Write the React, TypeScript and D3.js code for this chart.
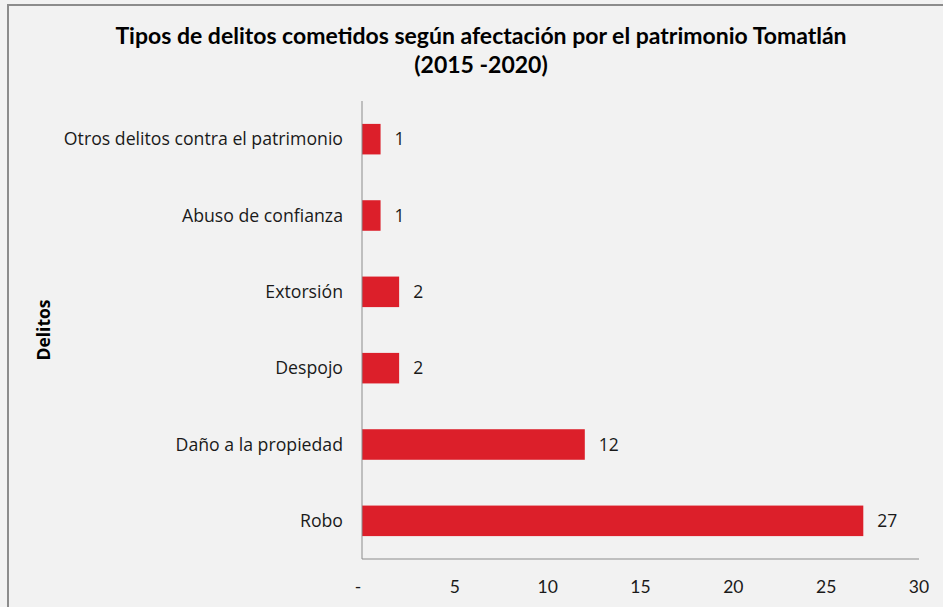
import React from "react";
import * as d3 from "d3";

const categories = [
  "Otros delitos contra el patrimonio",
  "Abuso de confianza",
  "Extorsión",
  "Despojo",
  "Daño a la propiedad",
  "Robo",
];
const values = [1, 1, 2, 2, 12, 27];
const xTicks = [0, 5, 10, 15, 20, 25, 30];
const titleLines = [
  "Tipos de delitos cometidos según afectación por el patrimonio Tomatlán",
  "(2015 -2020)",
];
const yTitle = "Delitos";

const W = 943;
const H = 607;
const TITLE_FONT = "Lato, 'Open Sans', sans-serif";
const LABEL_FONT = "'Open Sans', sans-serif";

export default function App() {
  const left = 362;
  const right = 919;
  const top = 101;
  const bottom = 559;

  const x = d3.scaleLinear().domain([0, 30]).range([left, right]);
  const y = d3
    .scaleBand<string>()
    .domain(categories)
    .range([top, bottom])
    .paddingInner(0.6)
    .paddingOuter(0.3);

  return (
    <svg
      width={W}
      height={H}
      style={{ position: "fixed", left: 0, top: 0, display: "block" }}
    >
      <rect x={0} y={0} width={W} height={H} fill="#F2F2F2" />
      <rect
        x={8}
        y={5}
        width={W + 20}
        height={H + 20}
        fill="#F2F2F2"
        stroke="#8C8C8C"
        strokeWidth={2}
      />
      {titleLines.map((t, i) => (
        <text
          key={i}
          x={481}
          y={44 + i * 29}
          textAnchor="middle"
          fontFamily={TITLE_FONT}
          fontWeight="bold"
          fontSize={23}
          fill="#000"
        >
          {t}
        </text>
      ))}
      <text
        transform={`translate(50,330) rotate(-90)`}
        textAnchor="middle"
        fontFamily={LABEL_FONT}
        fontWeight="bold"
        fontSize={17.5}
        fill="#000"
      >
        {yTitle}
      </text>
      {categories.map((c, i) => {
        const yy = y(c)!;
        const bw = y.bandwidth();
        return (
          <g key={c}>
            <rect
              x={x(0)}
              y={yy}
              width={x(values[i]) - x(0)}
              height={bw}
              fill="#DC1F2A"
            />
            <text
              x={343}
              y={yy + bw / 2}
              dy="0.35em"
              textAnchor="end"
              fontFamily={LABEL_FONT}
              fontSize={17.7}
              fill="#1a1a1a"
            >
              {c}
            </text>
            <text
              x={x(values[i]) + 14}
              y={yy + bw / 2}
              dy="0.35em"
              textAnchor="start"
              fontFamily={LABEL_FONT}
              fontSize={17.5}
              fill="#1a1a1a"
            >
              {values[i]}
            </text>
          </g>
        );
      })}
      <line x1={left} x2={left} y1={top} y2={bottom} stroke="#8C8C8C" strokeWidth={1} />
      <line x1={left} x2={right} y1={bottom} y2={bottom} stroke="#8C8C8C" strokeWidth={1} />
      {xTicks.map((t) => (
        <text
          key={t}
          x={t === 0 ? x(t) - 4 : x(t)}
          y={587}
          dy="0.35em"
          textAnchor="middle"
          fontFamily={TITLE_FONT}
          fontSize={17.5}
          fill="#1a1a1a"
        >
          {t === 0 ? "-" : String(t)}
        </text>
      ))}
    </svg>
  );
}
